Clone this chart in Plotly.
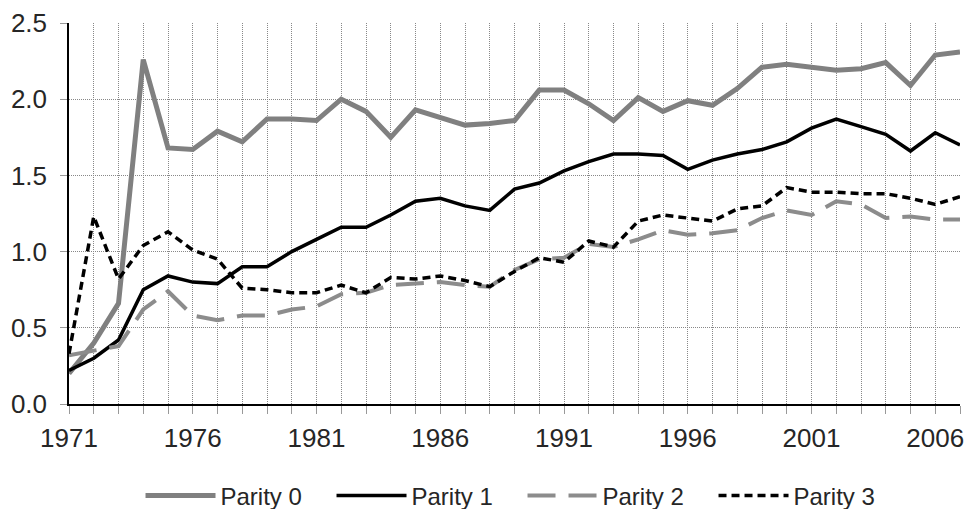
import plotly.graph_objects as go

years = list(range(1971, 2008))

parity0 = [0.20, 0.40, 0.66, 2.26, 1.68, 1.67, 1.79, 1.72, 1.87, 1.87, 1.86,
           2.00, 1.92, 1.75, 1.93, 1.88, 1.83, 1.84, 1.86, 2.06, 2.06, 1.97,
           1.86, 2.01, 1.92, 1.99, 1.96, 2.07, 2.21, 2.23, 2.21, 2.19, 2.20,
           2.24, 2.09, 2.29, 2.31]
parity1 = [0.22, 0.30, 0.42, 0.75, 0.84, 0.80, 0.79, 0.90, 0.90, 1.00, 1.08,
           1.16, 1.16, 1.24, 1.33, 1.35, 1.30, 1.27, 1.41, 1.45, 1.53, 1.59,
           1.64, 1.64, 1.63, 1.54, 1.60, 1.64, 1.67, 1.72, 1.81, 1.87, 1.82,
           1.77, 1.66, 1.78, 1.70]
parity2 = [0.32, 0.35, 0.38, 0.62, 0.74, 0.58, 0.55, 0.58, 0.58, 0.62, 0.64,
           0.72, 0.73, 0.78, 0.79, 0.80, 0.78, 0.77, 0.88, 0.95, 0.96, 1.05,
           1.03, 1.08, 1.14, 1.11, 1.12, 1.14, 1.22, 1.27, 1.24, 1.33, 1.31,
           1.22, 1.23, 1.21, 1.21]
parity3 = [0.33, 1.23, 0.82, 1.04, 1.13, 1.01, 0.95, 0.76, 0.75, 0.73, 0.73,
           0.78, 0.73, 0.83, 0.82, 0.84, 0.81, 0.77, 0.87, 0.96, 0.93, 1.07,
           1.03, 1.20, 1.24, 1.22, 1.20, 1.28, 1.30, 1.42, 1.39, 1.39, 1.38,
           1.38, 1.35, 1.31, 1.36]

x_tick_labels = [1971, 1976, 1981, 1986, 1991, 1996, 2001, 2006]
y_tick_vals = [0.0, 0.5, 1.0, 1.5, 2.0, 2.5]

FONT = "Liberation Sans, Arial, sans-serif"

fig = go.Figure()
fig.add_trace(go.Scatter(x=years, y=parity0, mode="lines", name="Parity 0",
                         line=dict(color="#808080", width=5)))
fig.add_trace(go.Scatter(x=years, y=parity1, mode="lines", name="Parity 1",
                         line=dict(color="#000000", width=3.5)))
fig.add_trace(go.Scatter(x=years, y=parity2, mode="lines", name="Parity 2",
                         line=dict(color="#8c8c8c", width=4, dash="28px,13px")))
fig.add_trace(go.Scatter(x=years, y=parity3, mode="lines", name="Parity 3",
                         line=dict(color="#000000", width=3.5, dash="8px,5px")))

fig.update_layout(
    width=968, height=509,
    margin=dict(l=69, r=8, t=23, b=105, autoexpand=False),
    paper_bgcolor="white", plot_bgcolor="white",
    font=dict(family=FONT, size=26, color="#262626"),
    showlegend=True,
    legend=dict(orientation="h", x=0.509, xanchor="center", y=-0.2415, yanchor="middle",
                font=dict(size=24, color="#262626"), itemwidth=70,
                entrywidth=106, traceorder="normal"),
    xaxis=dict(
        range=[1971, 2007],
        tickmode="array", tickvals=x_tick_labels,
        ticktext=[str(v) for v in x_tick_labels],
        ticks="outside", ticklen=8, tickcolor="#999999", tickwidth=1,
        ticklabelstandoff=2,
        showgrid=True, gridcolor="#888888", griddash="1px,1px", gridwidth=1,
        showline=True, linecolor="#000000", linewidth=1.5,
        zeroline=False,
        minor=dict(dtick=1, tick0=1971, showgrid=True, gridcolor="#888888",
                   griddash="1px,1px", gridwidth=1, ticks="outside",
                   ticklen=8, tickcolor="#999999"),
        tickfont=dict(size=26),
    ),
    yaxis=dict(
        range=[0, 2.5],
        tickmode="array", tickvals=y_tick_vals,
        ticktext=[f"{v:.1f}" for v in y_tick_vals],
        ticks="outside", ticklen=7, tickcolor="#999999",
        ticklabelstandoff=8,
        showgrid=True, gridcolor="#888888", griddash="1px,1px", gridwidth=1,
        showline=True, linecolor="#000000", linewidth=1.5,
        zeroline=False,
        tickfont=dict(size=26),
    ),
)

fig.write_html(
    "out.html",
    config={"displayModeBar": False},
    post_script="document.body.style.margin='0';document.body.style.overflow='hidden';",
)
